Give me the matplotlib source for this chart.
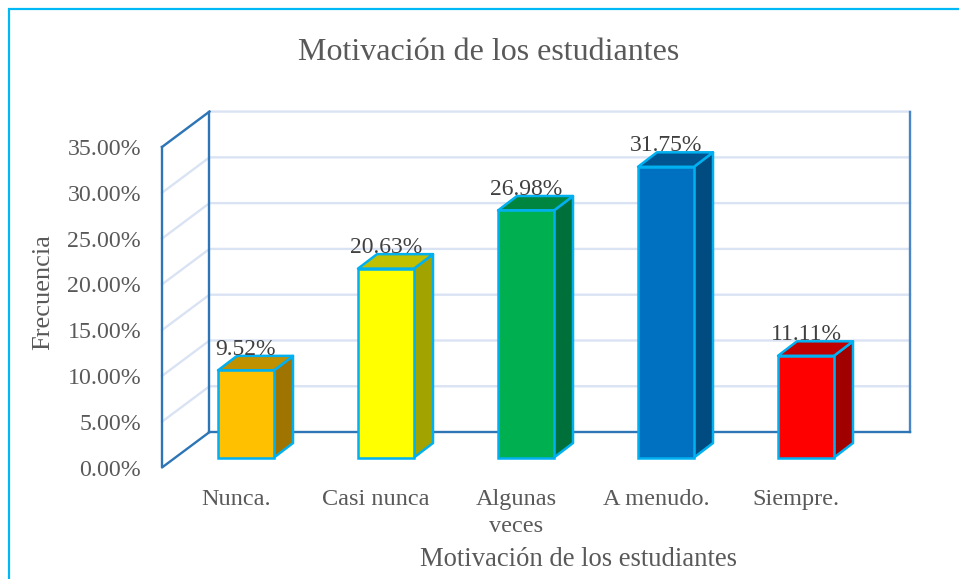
import numpy as np
import matplotlib
matplotlib.use("Agg")
import matplotlib.pyplot as plt
from matplotlib.patches import Rectangle
from matplotlib.transforms import ScaledTranslation

plt.rcParams['font.family'] = ['Liberation Serif', 'DejaVu Serif']

categories = ["Nunca.", "Casi nunca", "Algunas\nveces", "A menudo.", "Siempre."]
values = [9.52, 20.63, 26.98, 31.75, 11.11]
value_labels = ["9.52%", "20.63%", "26.98%", "31.75%", "11.11%"]
y_ticks = [0, 5, 10, 15, 20, 25, 30, 35]
front_colors = ["#FFC000", "#FFFF00", "#00B050", "#0070C0", "#FF0000"]
top_colors = ["#BF9000", "#C0C000", "#008540", "#005490", "#C00000"]
side_colors = ["#A07400", "#A3A300", "#00703A", "#004C80", "#A00000"]

W, H = 959, 579
fig = plt.figure(figsize=(W / 100, H / 100), dpi=100, facecolor="white")
fig.add_artist(Rectangle((9 / W, -0.01), 1.01 - 9 / W, 1.01 - 9 / H, transform=fig.transFigure,
                         fc="none", ec="#00B8F5", lw=1.6))

# axes box = front plane of the 3D box, in pixels
left, right, top, bottom = 162, 862.5, 147, 467.5
ax = fig.add_axes([left / W, 1 - bottom / H, (right - left) / W, (bottom - top) / H])
ax.set_xlim(-0.6, 4.4036)
ax.set_ylim(0, 35)
ax.patch.set_alpha(0)
for s in ax.spines.values():
    s.set_visible(False)

# depth offsets in data units
wall_dx, wall_dy = 47.5 / 140, 3.87
bar_dx, bar_dy = 19 / 140, 1.58
bar_floor = 1.09
bar_w = 0.4
x0, x1 = ax.get_xlim()

# walls
grid_c, wall_c = "#DAE3F3", "#2E75B6"
for t in y_ticks[1:]:
    ax.plot([x0, x0 + wall_dx, x1 + wall_dx], [t, t + wall_dy, t + wall_dy], color=grid_c, lw=1.7,
            clip_on=False, zorder=1, solid_joinstyle="miter")
ax.plot([x0 + wall_dx, x0 + wall_dx], [wall_dy, 35 + wall_dy], color=wall_c, lw=1.7, clip_on=False, zorder=2)
ax.plot([x1 + wall_dx, x1 + wall_dx], [wall_dy, 35 + wall_dy], color="#4A86C5", lw=1.7, clip_on=False, zorder=2)
ax.plot([x0, x0, x0 + wall_dx], [35, 0, wall_dy], color=wall_c, lw=1.7, clip_on=False, zorder=2)
ax.plot([x0, x0 + wall_dx], [35, 35 + wall_dy], color=wall_c, lw=1.7, clip_on=False, zorder=2)
ax.plot([x0 + wall_dx, x1 + wall_dx], [wall_dy, wall_dy], color=wall_c, lw=1.7, clip_on=False, zorder=2)

# bars
edge = "#00B0F0"
for i, v in enumerate(values):
    l, r = i - bar_w / 2, i + bar_w / 2
    b, t = bar_floor, bar_floor + v
    ax.fill([r, r + bar_dx, r + bar_dx, r], [b, b + bar_dy, t + bar_dy, t], fc=side_colors[i], ec=edge,
            lw=1.8, clip_on=False, zorder=3, joinstyle="round")
    ax.fill([l, l + bar_dx, r + bar_dx, r], [t, t + bar_dy, t + bar_dy, t], fc=top_colors[i], ec=edge,
            lw=1.8, clip_on=False, zorder=3, joinstyle="round")
    ax.bar(i, v, width=bar_w, bottom=b, color=front_colors[i], edgecolor=edge, lw=1.8, zorder=4, clip_on=False)
    ax.text(i, t + bar_dy + 0.12, value_labels[i], ha="center", va="baseline", fontsize=17,
            color="#404040", zorder=5)

ax.set_yticks(y_ticks)
ax.set_yticklabels([f"{t:.2f}%" for t in y_ticks], fontsize=17.2, color="#595959")
ax.set_xticks(range(len(categories)))
ax.set_xticklabels(categories, fontsize=17.5, color="#595959", linespacing=1.4)
ax.tick_params(length=0)
ax.tick_params(axis="y", pad=15)
ax.tick_params(axis="x", pad=15.5)
# category labels sit a bit left of the bars in the original
shift = ScaledTranslation(-10 / 100, 0, fig.dpi_scale_trans)
for lab in ax.get_xticklabels():
    lab.set_transform(lab.get_transform() + shift)

fig.text(489 / W, 1 - 52 / H, "Motivación de los estudiantes", ha="center", va="center", fontsize=23, color="#595959")
fig.text(578 / W, 1 - 559 / H, "Motivación de los estudiantes", ha="center", va="center", fontsize=19.2, color="#595959")
fig.text(43 / W, 1 - 292 / H, "Frecuencia", ha="center", va="center", rotation=90, fontsize=19, color="#595959")

fig.savefig("out.png", dpi=100)
